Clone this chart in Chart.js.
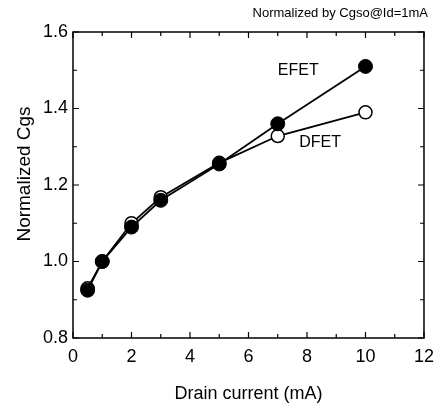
<!DOCTYPE html>
<html>
<head>
<meta charset="utf-8">
<script src="https://cdn.jsdelivr.net/npm/chart.js@4/dist/chart.umd.min.js"></script>
<style>
  html, body { margin: 0; padding: 0; background: #fff; }
  #wrap { width: 442px; height: 409px; }
</style>
</head>
<body>
<div id="wrap"><canvas id="chart" width="442" height="409"></canvas></div>
<script>
// data
const drainCurrent = [0.5, 1, 2, 3, 5, 7, 10];
const efetCgs = [0.925, 1.0, 1.09, 1.16, 1.255, 1.36, 1.51];
const dfetCgs = [0.93, 1.0, 1.10, 1.168, 1.258, 1.328, 1.39];
const xTicks = [0, 2, 4, 6, 8, 10, 12];
const yTicks = [0.8, 1.0, 1.2, 1.4, 1.6];

const font = "'Liberation Sans', Arial, Helvetica, sans-serif";

// frame, inward ticks and the text labels
const framePlugin = {
    id: 'frame',
    afterDraw(chart) {
        const ctx = chart.ctx;
        const a = chart.chartArea;
        const xs = chart.scales.x, ys = chart.scales.y;
        ctx.save();
        ctx.strokeStyle = '#000';
        ctx.lineWidth = 1.5;
        ctx.strokeRect(a.left, a.top, a.right - a.left, a.bottom - a.top);

        ctx.lineWidth = 1.2;
        ctx.beginPath();
        for (let v = 0; v <= 12; v += 1) {
            const px = xs.getPixelForValue(v);
            const len = v % 2 === 0 ? 6 : 4;
            ctx.moveTo(px, a.bottom); ctx.lineTo(px, a.bottom - len);
            ctx.moveTo(px, a.top); ctx.lineTo(px, a.top + len);
        }
        for (let i = 0; i <= 8; i++) {
            const v = 0.8 + i * 0.1;
            const py = ys.getPixelForValue(v);
            const len = i % 2 === 0 ? 6 : 4;
            ctx.moveTo(a.left, py); ctx.lineTo(a.left + len, py);
            ctx.moveTo(a.right, py); ctx.lineTo(a.right - len, py);
        }
        ctx.stroke();

        ctx.fillStyle = '#000';
        ctx.textBaseline = 'middle';
        ctx.font = '16px ' + font;
        ctx.textAlign = 'center';
        ctx.fillText('EFET', xs.getPixelForValue(7.7), ys.getPixelForValue(1.5));
        ctx.fillText('DFET', xs.getPixelForValue(8.45), ys.getPixelForValue(1.31));

        ctx.font = '13px ' + font;
        ctx.textAlign = 'right';
        ctx.fillText('Normalized by Cgso@Id=1mA', 428, 13);

        ctx.font = '19px ' + font;
        ctx.textAlign = 'center';
        ctx.translate(25, 174);
        ctx.rotate(-Math.PI / 2);
        ctx.fillText('Normalized Cgs', 0, 0);
        ctx.restore();
    }
};

new Chart(document.getElementById('chart'), {
    type: 'line',
    data: {
        datasets: [{
            label: 'EFET',
            data: drainCurrent.map((x, i) => ({ x: x, y: efetCgs[i] })),
            borderColor: '#000',
            borderWidth: 1.8,
            pointBackgroundColor: '#000',
            pointBorderColor: '#000',
            pointRadius: 7,
            pointBorderWidth: 1,
            tension: 0
        }, {
            label: 'DFET',
            data: drainCurrent.map((x, i) => ({ x: x, y: dfetCgs[i] })),
            borderColor: '#000',
            borderWidth: 1.8,
            pointBackgroundColor: '#fff',
            pointBorderColor: '#000',
            pointRadius: 6.5,
            pointBorderWidth: 1.5,
            tension: 0
        }]
    },
    options: {
        responsive: false,
        animation: false,
        layout: { padding: { top: 32, right: 12, left: 0, bottom: 0 } },
        plugins: { legend: { display: false }, tooltip: { enabled: false } },
        scales: {
            x: {
                type: 'linear',
                min: 0, max: 12,
                afterBuildTicks: s => { s.ticks = xTicks.map(v => ({ value: v })); },
                afterFit: s => { s.height = 71; },
                grid: { display: false, drawTicks: false },
                border: { display: false },
                ticks: { color: '#000', padding: 8, font: { family: font, size: 18 } },
                title: {
                    display: true, text: 'Drain current (mA)', color: '#000',
                    font: { family: font, size: 18 }, padding: { top: 14 }
                }
            },
            y: {
                type: 'linear',
                min: 0.8, max: 1.6,
                afterBuildTicks: s => { s.ticks = yTicks.map(v => ({ value: v })); },
                afterFit: s => { s.width = 73; },
                grid: { display: false, drawTicks: false },
                border: { display: false },
                ticks: {
                    color: '#000', padding: 5, font: { family: font, size: 18 },
                    callback: v => v.toFixed(1)
                }
            }
        }
    },
    plugins: [framePlugin]
});
</script>
</body>
</html>
